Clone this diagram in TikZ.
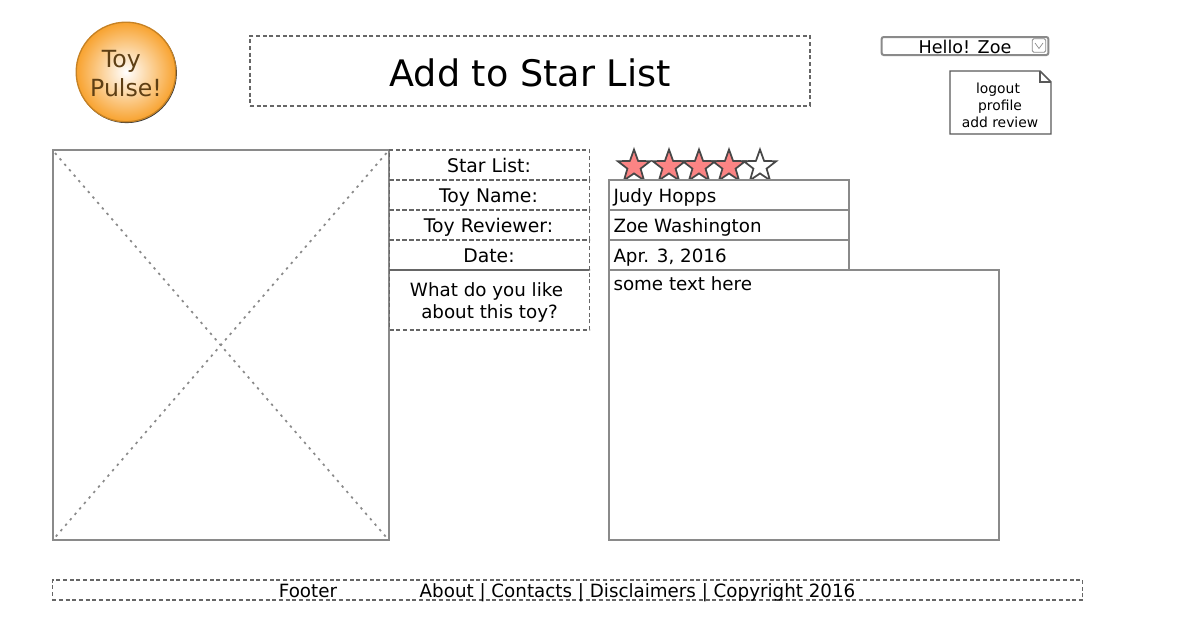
\documentclass[tikz,border=0pt]{standalone}
\usepackage{fontspec}
\setmainfont{DejaVu Sans}
\usetikzlibrary{shapes.geometric}
\definecolor{wireGray}{HTML}{8A8A8A}
\definecolor{dashGray}{HTML}{666666}
\definecolor{starRed}{HTML}{FB8484}
\definecolor{logoOrange}{HTML}{F8A22E}
\definecolor{logoBrown}{HTML}{5E3F14}
\tikzset{every picture/.style={line width=0.75pt},
  dashbox/.style={draw=dashGray,dash pattern=on 3pt off 2pt,line width=0.95pt,inner sep=0pt,outer sep=0pt},
  wirebox/.style={draw=wireGray,line width=1.5pt,inner sep=0pt,outer sep=0pt},
  bodytext/.style={font=\fontsize{13.7}{16.5}\selectfont,inner sep=0pt,text=black,text height=13pt,text depth=3pt},
  ratestar/.style={star,star points=5,star point ratio=2.45,minimum size=25.5pt,inner sep=0pt,draw=black!72,line width=1.3pt,fill=starRed},
}

\begin{document}
\begin{tikzpicture}[x=0.75pt,y=0.75pt,yscale=-1,xscale=1]
\useasboundingbox (0,0) rectangle (1204,621);

%Logo
\fill [black!78] (126.7,72.9) circle [radius=50.2];
\shade [inner color=white,outer color=logoOrange] (126,72) circle [radius=50];
\draw [draw=logoOrange!80!black,line width=1pt] (126,72) circle [radius=49.8];
\draw (126,74) node [align=center,inner sep=0pt,text=logoBrown,font=\fontsize{17.7}{21.75}\selectfont] (logoText) {Toy\hspace*{7pt}\\Pulse!};

%Title
\draw (530,71) node [dashbox,minimum width=420pt,minimum height=52.5pt] (titleBox) {};
\draw (530,73) node [inner sep=0pt,font=\fontsize{27.4}{32}\selectfont] (titleText) {Add to Star List};

%User menu
\draw (965,46) node [draw=wireGray,rounded corners=1.5pt,line width=1.5pt,minimum width=125pt,minimum height=13.5pt,inner sep=0pt] (helloBox) {};
\draw (965,47) node [bodytext,font=\fontsize{13.2}{16.5}\selectfont] (helloText) {Hello! Zoe};
\draw (1039,45.5) node [draw=wireGray,rounded corners=1pt,line width=0.6pt,minimum width=10pt,minimum height=10pt,inner sep=0pt] (helloBtn) {};
\draw [wireGray,line width=0.5pt] (1035,43) -- (1039,48.5) -- (1043,43) ;

%Note
\draw [draw=black!65,line width=1.1pt,fill=white] (950,71) -- (1040,71) -- (1051,82) -- (1051,134) -- (950,134) -- cycle ;
\draw [draw=black!65,line width=0.8pt] (1040,71) -- (1040,82) -- (1051,82) ;
\draw (1000,105) node [align=center,inner sep=0pt,font=\fontsize{10.4}{12.7}\selectfont] (noteText) {logout\hspace*{3pt}\\profile\hspace*{3pt}\\add review};

%Image placeholder
\draw [wirebox] (52.5,150) rectangle (389,540) ;
\draw [wireGray,line width=1.3pt,dash pattern=on 1.8pt off 3.6pt] (55,153) -- (386.5,537.5) ;
\draw [wireGray,line width=1.3pt,dash pattern=on 1.8pt off 3.6pt] (386.5,153) -- (55,537.5) ;

%Labels
\draw (489.5,165) node [dashbox,minimum width=150pt,minimum height=22.5pt] (starBox) {};
\draw (489.5,195) node [dashbox,minimum width=150pt,minimum height=22.5pt] (nameBox) {};
\draw (489.5,225) node [dashbox,minimum width=150pt,minimum height=22.5pt] (reviewerBox) {};
\draw (489.5,255) node [dashbox,minimum width=150pt,minimum height=22.5pt] (dateBox) {};
\draw (489.5,300) node [dashbox,minimum width=150pt,minimum height=45pt] (likeBox) {};
\draw (489,166) node [bodytext,font=\fontsize{14.1}{16.5}\selectfont] (starLabel) {Star List:};
\draw (488.5,196) node [bodytext,font=\fontsize{14.1}{16.5}\selectfont] (nameLabel) {Toy Name:};
\draw (488.5,226) node [bodytext,font=\fontsize{14.1}{16.5}\selectfont] (reviewerLabel) {Toy Reviewer:};
\draw (489,256) node [bodytext,font=\fontsize{14.1}{16.5}\selectfont] (dateLabel) {Date:};
\draw (489.5,302) node [align=center,inner sep=0pt,font=\fontsize{13.7}{16.5}\selectfont] (likeLabel) {What do you like\hspace*{4.5pt}\\about this toy?};

%Stars
\foreach \n/\x/\c in {a/634/starRed,b/669/starRed,c/699/starRed,d/729/starRed,e/760/white} {
  \draw (\x,166.5) node [ratestar,fill=\c] (star\n) {};
}

%Fields
\draw [wirebox,fill=white] (609,180) rectangle (849,210) ;
\draw [wirebox,fill=white] (609,210) rectangle (849,240) ;
\draw [wirebox,fill=white] (609,240) rectangle (849,270) ;
\draw [wirebox,fill=white] (609,270) rectangle (999,540) ;
\draw (613,196) node [anchor=west,bodytext] (nameField) {Judy Hopps};
\draw (613,226) node [anchor=west,bodytext] (reviewerField) {Zoe Washington};
\draw (613,256) node [anchor=west,bodytext] (dateField) {Apr. 3, 2016};
\draw (613,283.5) node [anchor=west,bodytext] (commentField) {some text here};

%Footer
\draw (567.5,590) node [dashbox,minimum width=773pt,minimum height=15pt] (footerBox) {};
\draw (308,591) node [bodytext] (footerText) {Footer};
\draw (637.5,591) node [bodytext] (footerLinks) {About | Contacts | Disclaimers | Copyright 2016};

\end{tikzpicture}
\end{document}
